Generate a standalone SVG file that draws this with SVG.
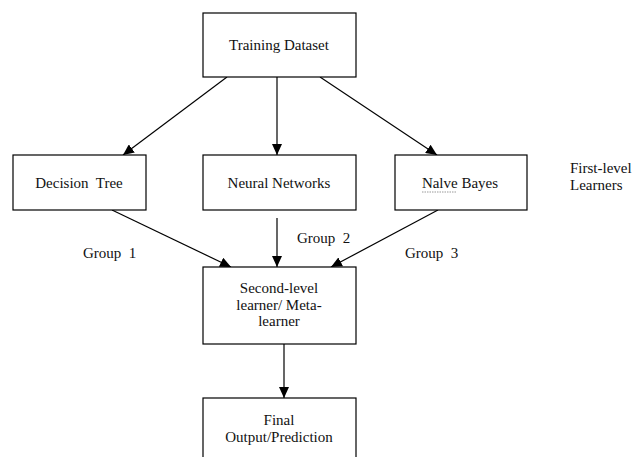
<svg xmlns="http://www.w3.org/2000/svg" width="633" height="457" viewBox="0 0 633 457">
<style>
.box{fill:#fff;stroke:#000;stroke-width:1.2}
.t{font-family:"Liberation Serif","Times New Roman",serif;font-size:15px;fill:#111;text-anchor:middle}
.l{font-family:"Liberation Serif","Times New Roman",serif;font-size:15px;fill:#111}
.c{stroke:#000;stroke-width:1.2;fill:none;marker-end:url(#ah)}
</style>
<defs>
<marker id="ah" markerUnits="userSpaceOnUse" markerWidth="12" markerHeight="10" refX="11" refY="5" orient="auto">
<path d="M0,0 L11,5 L0,10 Z" fill="#000"/>
</marker>
</defs>
<rect width="633" height="457" fill="#fff"/>
<g id="connectors">
<line class="c" x1="227" y1="77" x2="123" y2="155"/>
<line class="c" x1="277" y1="77" x2="277" y2="155"/>
<line class="c" x1="320" y1="77" x2="437" y2="155"/>
<line class="c" x1="112" y1="210" x2="231" y2="267"/>
<line class="c" x1="277" y1="218" x2="277" y2="267"/>
<line class="c" x1="438" y1="210" x2="331" y2="267"/>
<line class="c" x1="284" y1="344" x2="284" y2="398"/>
</g>
<g id="training">
<rect class="box" x="203" y="13" width="153" height="64"/>
<text class="t" x="279" y="50">Training Dataset</text>
</g>
<g id="decision-tree">
<rect class="box" x="13" y="155" width="133" height="55"/>
<text class="t" x="79" y="188" xml:space="preserve">Decision  Tree</text>
</g>
<g id="neural-networks">
<rect class="box" x="203" y="155" width="153" height="55"/>
<text class="t" x="279" y="188">Neural Networks</text>
</g>
<g id="naive-bayes">
<rect class="box" x="395" y="155" width="132" height="55"/>
<text class="t" x="460" y="188">Nalve Bayes</text>
<line x1="422" y1="192" x2="457" y2="192" stroke="#999" stroke-width="1" stroke-dasharray="1.5 1"/>
</g>
<g id="meta-learner">
<rect class="box" x="203" y="267" width="153" height="77"/>
<text class="t" x="279" y="293">Second-level</text>
<text class="t" x="279" y="310">learner/ Meta-</text>
<text class="t" x="279" y="326">learner</text>
</g>
<g id="final">
<rect class="box" x="203" y="398" width="153" height="70"/>
<text class="t" x="279" y="425">Final</text>
<text class="t" x="279" y="442">Output/Prediction</text>
</g>
<g id="labels">
<text class="l" x="83" y="258" xml:space="preserve">Group  1</text>
<text class="l" x="297" y="243" xml:space="preserve">Group  2</text>
<text class="l" x="405" y="258" xml:space="preserve">Group  3</text>
<text class="l" x="570" y="173">First-level</text>
<text class="l" x="570" y="190">Learners</text>
</g>
</svg>
